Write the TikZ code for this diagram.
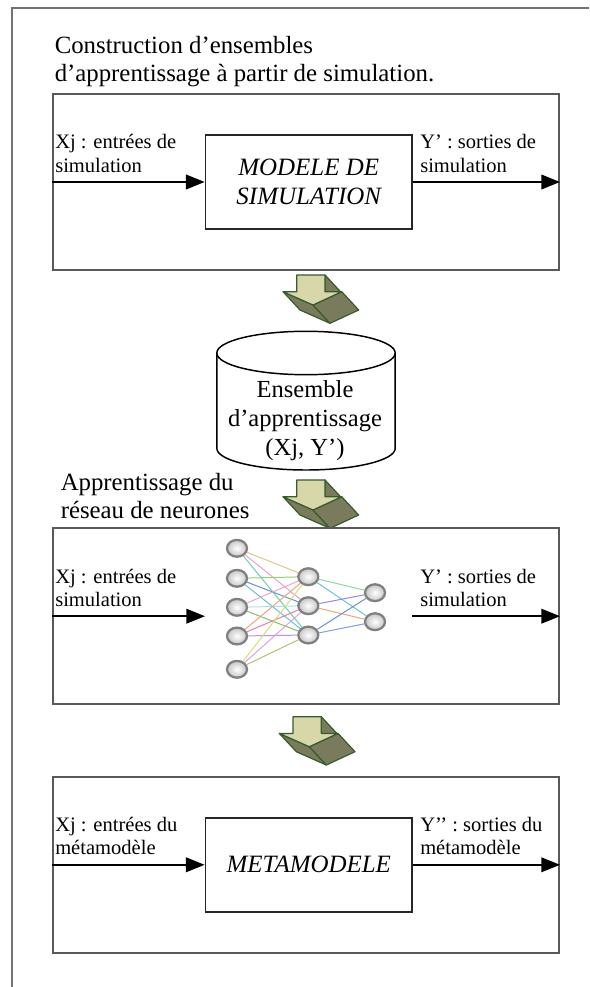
\documentclass[tikz,border=0pt]{standalone}
\usepackage{fontspec}
\setmainfont{Liberation Serif}
\usepackage{tikz}
\usetikzlibrary{arrows.meta,shapes.geometric}

\definecolor{synTan}{RGB}{222,200,145}
\definecolor{synPink}{RGB}{232,160,212}
\definecolor{synTeal}{RGB}{110,206,180}
\definecolor{synGreen}{RGB}{145,208,120}
\definecolor{synBlue}{RGB}{105,145,212}
\definecolor{synCyan}{RGB}{100,198,210}
\definecolor{synRose}{RGB}{238,165,200}
\definecolor{synIce}{RGB}{175,222,236}
\definecolor{synLeaf}{RGB}{135,192,100}
\definecolor{synOrange}{RGB}{238,165,125}
\definecolor{synMagenta}{RGB}{232,125,172}
\definecolor{synLilac}{RGB}{186,145,238}
\definecolor{synYellow}{RGB}{215,220,120}
\definecolor{synMauve}{RGB}{214,165,228}
\definecolor{synOlive}{RGB}{180,192,120}
\definecolor{synMint}{RGB}{145,214,168}
\definecolor{synViolet}{RGB}{145,135,238}
\definecolor{synSky}{RGB}{125,158,226}
\definecolor{arrowFace}{RGB}{215,215,170}
\definecolor{arrowSide}{RGB}{122,122,92}
\definecolor{arrowEdge}{RGB}{55,92,45}

\tikzset{
  stagebox/.style={draw=black!65, line width=1.5pt, minimum width=379.5pt, minimum height=132pt, inner sep=0pt},
  modelbox/.style={draw=black!85, line width=1.3pt, minimum width=154.9pt, minimum height=70.5pt, inner sep=0pt, align=center, font=\itshape\fontsize{18.7}{21.3}\selectfont},
  lbl/.style={anchor=base west, inner sep=0pt, font=\fontsize{15.4}{17.6}\selectfont},
  ttl/.style={anchor=base west, inner sep=0pt, font=\fontsize{18.6}{21}\selectfont},
  flow/.style={line width=1.2pt, -{Triangle[length=14pt,width=11pt]}},
  neuron/.style={ellipse, draw=gray, line width=1.7pt, inner color=white, outer color=gray!45, minimum width=15pt, minimum height=12.6pt, inner sep=0pt},
  syn/.style={line width=0.75pt},
  arrowface/.style={fill=arrowFace, draw=arrowEdge, line width=0.9pt, line join=round},
  arrowside/.style={fill=arrowSide, draw=arrowEdge, line width=0.9pt, line join=round}
}

\begin{document}
\begin{tikzpicture}[x=0.75pt,y=0.75pt,yscale=-1,xscale=1]
    \useasboundingbox (0,0) rectangle (589,987);

    %Straight Lines [frame]
    \draw [color=black!55, line width=1.8pt]  (11.7,987) -- (11.7,8.3) -- (589,8.3) ;

    % Text Node
    \node [ttl] (title1a) at (54.5,53.3) {Construction d’ensembles};
    % Text Node
    \node [ttl] (title1b) at (54.5,81.7) {d’apprentissage à partir de simulation.};

    %Shape: Rectangle [simulation stage]
    \node [stagebox] (box1) at (306,182) {};
    \node [modelbox] (sim) at (308.75,182) {MODELE DE\\SIMULATION};
    \draw [flow] (box1.west |- sim.west) -- (sim.west) ;
    \draw [flow] (sim.east) -- (sim.east -| box1.east) ;
    % Text Node
    \node [lbl] (in1a) at (55,148.3) {Xj : entrées de};
    \node [lbl] (in1b) at (55,172.5) {simulation};
    % Text Node
    \node [lbl] (out1a) at (420,148.3) {Y’ : sorties de};
    \node [lbl] (out1b) at (420,172.5) {simulation};

    %Shape: Block arrows
    \foreach \ax/\ay in {296.7/275, 296.7/480, 293/716.7}{
      \begin{scope}[shift={(\ax,\ay)}]
        \filldraw [arrowside] (28.3,0) -- (45.3,18.3) -- (45.3,35) -- (28.3,16.7) -- cycle ;
        \filldraw [arrowside] (-13.7,16.7) -- (16.3,30) -- (33.3,48.3) -- (3.3,35) -- cycle ;
        \filldraw [arrowside] (16.3,30) -- (45,16.7) -- (62,35) -- (33.3,48.3) -- cycle ;
        \filldraw [arrowface] (0,0) -- (28.3,0) -- (28.3,16.7) -- (45,16.7) -- (16.3,30) -- (-13.7,16.7) -- (0,16.7) -- cycle ;
      \end{scope}
    }

    %Shape: Can [training set]
    \draw [line width=1.1pt] (306,353) ellipse [x radius=89.2, y radius=21.7] ;
    \draw [line width=1.1pt] (216.8,353) -- (216.8,448.3) arc [start angle=180, end angle=0, x radius=89.2, y radius=21.7] -- (395.2,353) ;
    % Text Node
    \node [align=center, inner sep=0pt, font=\fontsize{18.4}{21.6}\selectfont] (trainset) at (305,420.5) {Ensemble\\d’apprentissage\\(Xj, Y’)};

    % Text Node
    \node [ttl] (title2a) at (60.5,490) {Apprentissage du};
    % Text Node
    \node [ttl] (title2b) at (60.5,518) {réseau de neurones};

    %Shape: Rectangle [learning stage]
    \node [stagebox] (box3) at (306,616.2) {};
    \coordinate (nnin) at (205,616.2);
    \coordinate (nnout) at (412,616.2);
    \draw [flow] (box3.west |- nnin) -- (nnin) ;
    \draw [flow] (nnout) -- (nnout -| box3.east) ;
    % Text Node
    \node [lbl] (in3a) at (55,583.3) {Xj : entrées de};
    \node [lbl] (in3b) at (55,606.9) {simulation};
    % Text Node
    \node [lbl] (out3a) at (420,583.3) {Y’ : sorties de};
    \node [lbl] (out3b) at (420,606.9) {simulation};

    %Neurons
    \node [neuron] (i1) at (237,548.3) {};
    \node [neuron] (i2) at (237,578.3) {};
    \node [neuron] (i3) at (237,607.3) {};
    \node [neuron] (i4) at (237,636) {};
    \node [neuron] (i5) at (237,669.3) {};
    \node [neuron] (h1) at (308.3,576.7) {};
    \node [neuron] (h2) at (308.3,605.7) {};
    \node [neuron] (h3) at (308.3,635) {};
    \node [neuron] (o1) at (375,592.7) {};
    \node [neuron] (o2) at (375,621.7) {};
    %Straight Lines [synapses]
    \foreach \a/\b/\c in {i1/h1/synTan, i1/h2/synPink, i1/h3/synTeal,
                          i2/h1/synGreen, i2/h2/synBlue, i2/h3/synCyan,
                          i3/h1/synRose, i3/h2/synIce, i3/h3/synLeaf,
                          i4/h1/synOrange, i4/h2/synMagenta, i4/h3/synLilac,
                          i5/h1/synYellow, i5/h2/synMauve, i5/h3/synOlive,
                          h1/o1/synMint, h1/o2/synCyan, h2/o1/synViolet,
                          h2/o2/synOrange, h3/o1/synBlue, h3/o2/synSky}
      \draw [syn, color=\c] (\a) -- (\b) ;

    %Shape: Rectangle [metamodel stage]
    \node [stagebox] (box4) at (306,864.7) {};
    \node [modelbox] (meta) at (308.75,864.8) {METAMODELE};
    \draw [flow] (box4.west |- meta.west) -- (meta.west) ;
    \draw [flow] (meta.east) -- (meta.east -| box4.east) ;
    % Text Node
    \node [lbl] (in4a) at (55,831.3) {Xj : entrées du};
    \node [lbl] (in4b) at (55,854.7) {métamodèle};
    % Text Node
    \node [lbl] (out4a) at (420,831.3) {Y’’ : sorties du};
    \node [lbl] (out4b) at (420,854.7) {métamodèle};
\end{tikzpicture}
\end{document}
